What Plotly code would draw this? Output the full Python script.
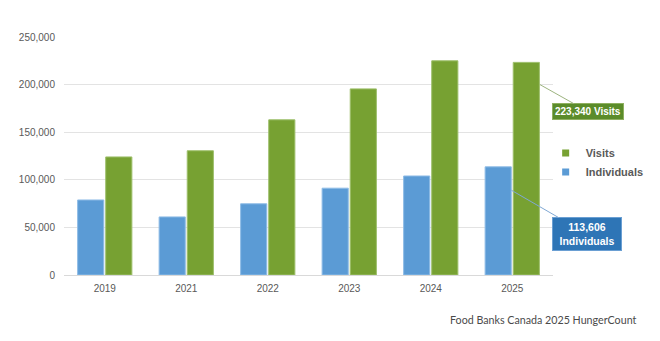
import plotly.graph_objects as go

years = ["2019", "2021", "2022", "2023", "2024", "2025"]
individuals = [78800, 61000, 74800, 91200, 104000, 113606]
visits = [124000, 130500, 163000, 195500, 225000, 223340]
y_ticks = [0, 50000, 100000, 150000, 200000, 250000]
y_tick_labels = ["0", "50,000", "100,000", "150,000", "200,000", "250,000"]

blue = "#5B9BD5"
green = "#77A132"
gray_text = "#595959"

fig = go.Figure()
fig.add_trace(go.Bar(x=years, y=individuals, name="Individuals", marker=dict(color=blue, line=dict(color="#8FBCE6", width=1)), showlegend=False))
fig.add_trace(go.Bar(x=years, y=visits, name="Visits", marker=dict(color=green, line=dict(color="#9DBF6A", width=1)), showlegend=False))
# legend entries (small squares)
fig.add_trace(go.Scatter(x=[years[-1]], y=[None], mode="markers", name="Individuals",
                         marker=dict(symbol="square", size=7, color=blue)))
fig.add_trace(go.Scatter(x=[years[-1]], y=[None], mode="markers", name="Visits",
                         marker=dict(symbol="square", size=7, color=green)))

fig.update_layout(
    width=660, height=341,
    margin=dict(l=64, r=107, t=37, b=66, autoexpand=False),
    paper_bgcolor="white", plot_bgcolor="white",
    barmode="group", bargap=0.31, bargroupgap=0.07,
    font=dict(family="Liberation Sans, Arial, sans-serif", size=10, color=gray_text),
    legend=dict(traceorder="reversed", x=0.985, xanchor="left", y=0.473, yanchor="middle",
                font=dict(size=11, color=gray_text, family="Liberation Sans, Arial, sans-serif", weight="bold"),
                itemwidth=30, tracegroupgap=0, bgcolor="rgba(0,0,0,0)"),
    showlegend=True,
)
fig.update_xaxes(type="category", range=[-0.5, len(years) - 0.5], showline=True, linecolor="#D9D9D9", linewidth=1,
                 ticks="outside", ticklen=4, tickcolor="rgba(0,0,0,0)",
                 showgrid=False, tickfont=dict(size=10, color=gray_text))
fig.update_yaxes(range=[0, 250000], tickvals=y_ticks, ticktext=y_tick_labels,
                 showgrid=True, gridcolor="#E3E3E3", gridwidth=1, zeroline=False,
                 ticks="outside", ticklen=6, tickcolor="rgba(0,0,0,0)",
                 tickfont=dict(size=10, color=gray_text))

# callouts
fig.add_annotation(x=5.34, y=200000, xref="x", yref="y",
                   text="<b>%s Visits</b>" % f"{visits[-1]:,}",
                   showarrow=True, arrowhead=0, arrowwidth=1, arrowcolor="#9DB47F",
                   axref="pixel", ayref="pixel", ax=48, ay=27,
                   bgcolor="#5B8C2A", bordercolor="#8FB060", borderwidth=1, borderpad=2,
                   font=dict(color="white", size=10, family="Liberation Sans, Arial, sans-serif"))
fig.add_annotation(x=4.99, y=89000, xref="x", yref="y",
                   text="<b>%s<br>Individuals</b>" % f"{individuals[-1]:,}",
                   showarrow=True, arrowhead=0, arrowwidth=1, arrowcolor="#7FA8D4",
                   axref="pixel", ayref="pixel", ax=76, ay=44,
                   bgcolor="#2E75B6", bordercolor="#6A9FD3", borderwidth=1, borderpad=3,
                   width=62, align="center",
                   font=dict(color="white", size=10.5, family="Liberation Sans, Arial, sans-serif"))

fig.add_annotation(x=1.176, y=-0.185, xref="paper", yref="paper", xanchor="right", yanchor="middle",
                   text="Food Banks Canada 2025 HungerCount", showarrow=False,
                   font=dict(family="Lato, sans-serif", size=10.7, color="#4A4A4A"))

fig.write_html("out.html")
